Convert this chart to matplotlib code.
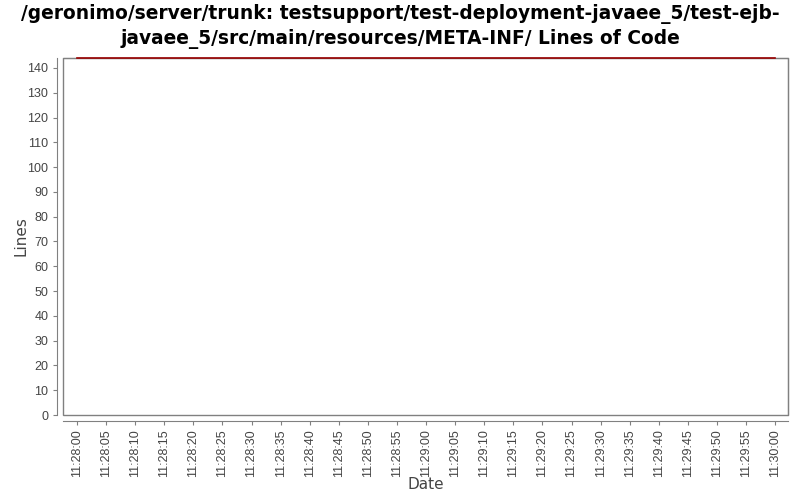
import matplotlib
matplotlib.use("Agg")
import matplotlib.pyplot as plt
import matplotlib.dates as mdates
from matplotlib.patches import Rectangle
from datetime import datetime

# data
dates = ["2000-01-01 11:28:00", "2000-01-01 11:30:00"]
lines = [144, 144]
title = ("/geronimo/server/trunk: testsupport/test-deployment-javaee_5/test-ejb-\n"
         "javaee_5/src/main/resources/META-INF/ Lines of Code")

x = [datetime.strptime(d, "%Y-%m-%d %H:%M:%S") for d in dates]

fig = plt.figure(figsize=(8, 5), dpi=100)
ax = fig.add_axes([63/800, 1-415/500, (788-63)/800, (415-58)/500])

grey = "#808080"
ax.add_patch(Rectangle((0, 0), 1, 1, transform=ax.transAxes, fill=False,
                       ec=grey, lw=1, clip_on=False, zorder=1))
ax.plot(x, lines, color="#990000", lw=1.2, clip_on=False, zorder=5)

t0 = mdates.date2num(x[0])
t1 = mdates.date2num(x[1])
sec = 1/86400
ax.set_xlim(t0 - 2.4*sec, t1 + 2.2*sec)
ax.set_ylim(0, 144)
ax.set_yticks(range(0, 141, 10))
ax.xaxis.set_major_locator(mdates.SecondLocator(bysecond=range(0, 60, 5)))
ax.xaxis.set_major_formatter(mdates.DateFormatter("%H:%M:%S"))
ax.tick_params(axis="x", labelrotation=90)

for s in ["left", "bottom"]:
    ax.spines[s].set_position(("outward", 4))
    ax.spines[s].set_color(grey)
for s in ["top", "right"]:
    ax.spines[s].set_color(grey)
ax.tick_params(colors=grey, labelcolor="#444444", labelsize=9, length=3)
for lab in ax.get_xticklabels() + ax.get_yticklabels():
    lab.set_fontfamily("Liberation Sans")

ax.set_xlabel("Date", fontsize=11, color="#444444", labelpad=0)
ax.set_ylabel("Lines", fontsize=11, color="#444444", labelpad=-1)
fig.suptitle(title, fontsize=13.4, fontweight="bold", y=0.992, linespacing=1.35)

fig.savefig("out.png", dpi=100)
